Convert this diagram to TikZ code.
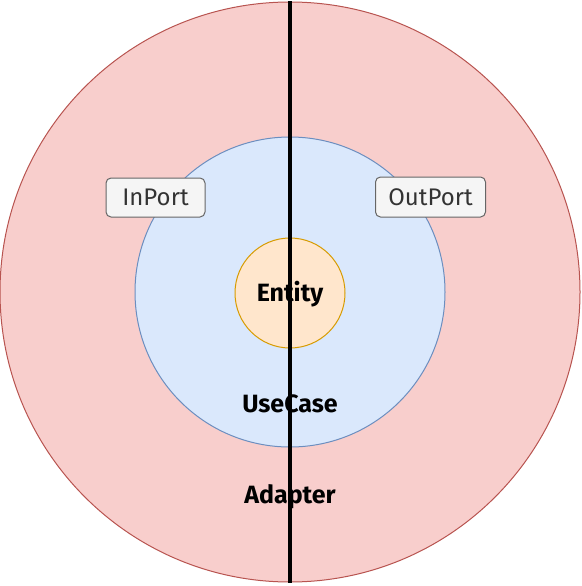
\documentclass[tikz,border=0pt]{standalone}
\usepackage{fontspec}
\setmainfont{Fira Sans}
\usepackage{xcolor}
\usetikzlibrary{arrows.meta, positioning}

\definecolor{adapterfill}{HTML}{F8CECC}
\definecolor{adapterline}{HTML}{B85450}
\definecolor{usecasefill}{HTML}{DAE8FC}
\definecolor{usecaseline}{HTML}{6C8EBF}
\definecolor{entityfill}{HTML}{FFE6CC}
\definecolor{entityline}{HTML}{D79B00}
\definecolor{portfill}{HTML}{F5F5F5}
\definecolor{portline}{HTML}{666666}
\definecolor{porttext}{HTML}{333333}

\tikzset{
    layer/.style={circle, draw, line width=1pt, inner sep=0pt},
    layerlabel/.style={font=\bfseries\fontsize{25}{28}\selectfont},
    portbox/.style={draw=portline, fill=portfill, line width=1pt, rounded corners=5pt, text=porttext,
        inner sep=0pt, font=\fontsize{24}{27}\selectfont}
}

\begin{document}
\begin{tikzpicture}[x=1pt, y=-1pt]
    \useasboundingbox (0,0) rectangle (581,586);
    % Three layers, one inside the other
    \node (adapter) at (290,292) [layer, fill=adapterfill, draw=adapterline, minimum size=580pt] {};
    \node (usecase) at (290,292) [layer, fill=usecasefill, draw=usecaseline, minimum size=310pt] {};
    \node (entity) at (290,293) [layer, fill=entityfill, draw=entityline, minimum size=110pt] {};
    % Layer names
    \node (entitylabel) at (290,294) [layerlabel] {Entity};
    \node (usecaselabel) at (290,404) [layerlabel] {UseCase};
    \node (adapterlabel) at (290,497) [layerlabel] {Adapter};
    % Ports
    \node (inport) at (155.5,197.5) [portbox, minimum width=99pt, minimum height=39pt] {InPort};
    \node (outport) at (430.5,197) [portbox, minimum width=110pt, minimum height=40pt] {OutPort};
    % Split line
    \draw[line width=4pt] (adapter.north) -- (adapter.south);
\end{tikzpicture}
\end{document}
